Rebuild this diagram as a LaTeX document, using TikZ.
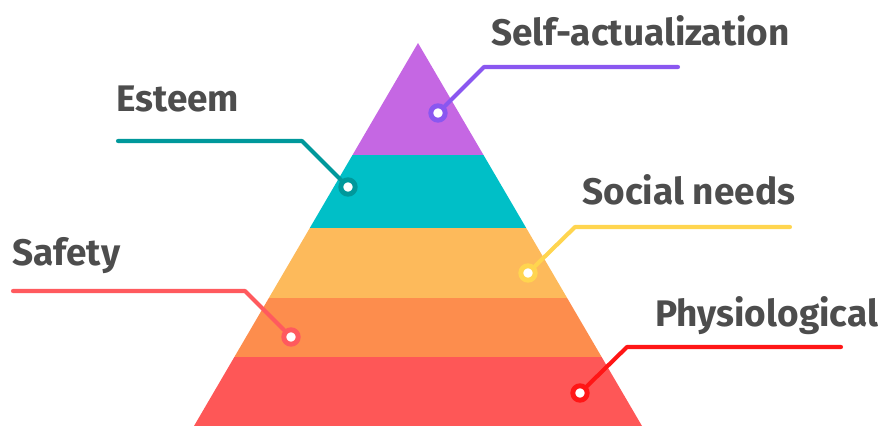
\documentclass[tikz,border=0pt]{standalone}
\usepackage{fontspec}
\setmainfont{Fira Sans}
\usepackage{xcolor}
\usepackage{tikz}

\definecolor{selfband}{HTML}{C567E3}
\definecolor{esteemband}{HTML}{00BFC7}
\definecolor{socialband}{HTML}{FDBA5B}
\definecolor{safetyband}{HTML}{FD8D4D}
\definecolor{physioband}{HTML}{FE5757}
\definecolor{selfline}{HTML}{8A57F0}
\definecolor{esteemline}{HTML}{00989B}
\definecolor{socialline}{HTML}{FFD54F}
\definecolor{safetyline}{HTML}{FF5A5E}
\definecolor{physioline}{HTML}{FF1616}
\definecolor{labelgray}{HTML}{4D4D4D}

\begin{document}
\begin{tikzpicture}[
                    x=0.025cm, y=-0.025cm,
                    lead/.style={line width=2.9pt, line cap=round, line join=round},
                    dot/.style={circle, fill=white, line width=3.5pt, minimum size=0.36cm, inner sep=0pt},
                    need/.style={anchor=base west, inner sep=0pt, text=labelgray, font=\fontsize{26.3}{30}\selectfont\bfseries}
            ]
                \useasboundingbox (0,0) rectangle (880,426);
                % pyramid bands
                \begin{scope}
                    \clip (418,43) -- (194,426) -- (642,426) -- cycle;
                    \foreach \top/\bot/\col in {40/155/selfband, 155/228/esteemband, 228/298/socialband, 298/357/safetyband, 357/430/physioband}
                        \fill [\col] (150,\top) rectangle (700,\bot);
                \end{scope}

                % labels
                \node [need] (selfL) at (491,46) {Self-actualization};
                \node [need] (esteemL) at (116,112) {Esteem};
                \node [need] (socialL) at (582,204) {Social needs};
                \node [need] (safetyL) at (12,265) {Safety};
                \node [need] (physioL) at (655,326) {Physiological};

                % leader lines
                \node [dot, draw=selfline] (selfD) at (438,113) {};
                \coordinate (selfK) at (484,67);
                \coordinate (selfE) at (678,67);
                \draw [lead, selfline] (selfE) -- (selfK) -- (selfD);

                \node [dot, draw=esteemline] (esteemD) at (348,187) {};
                \coordinate (esteemK) at (302,141);
                \coordinate (esteemE) at (118,141);
                \draw [lead, esteemline] (esteemE) -- (esteemK) -- (esteemD);

                \node [dot, draw=socialline] (socialD) at (528,273) {};
                \coordinate (socialK) at (575,227);
                \coordinate (socialE) at (790,227);
                \draw [lead, socialline] (socialE) -- (socialK) -- (socialD);

                \node [dot, draw=safetyline] (safetyD) at (291,337) {};
                \coordinate (safetyK) at (245,291);
                \coordinate (safetyE) at (13,291);
                \draw [lead, safetyline] (safetyE) -- (safetyK) -- (safetyD);

                \node [dot, draw=physioline] (physioD) at (580,393) {};
                \coordinate (physioK) at (627,347);
                \coordinate (physioE) at (841,347);
                \draw [lead, physioline] (physioE) -- (physioK) -- (physioD);
            \end{tikzpicture}
\end{document}
